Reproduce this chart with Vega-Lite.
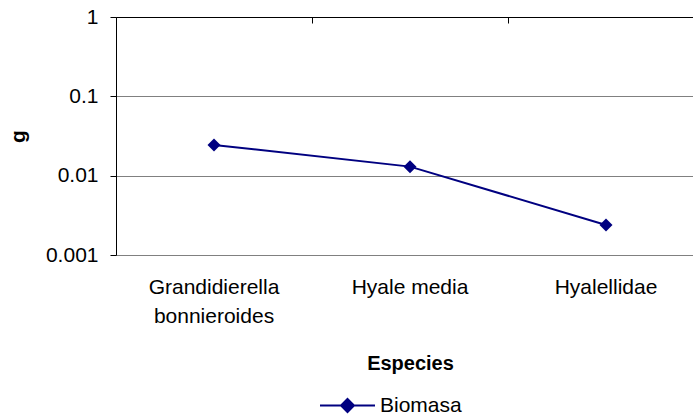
{
  "$schema": "https://vega.github.io/schema/vega-lite/v6.json",
  "autosize": {"type": "none"},
  "padding": {"left": 116, "top": 17, "right": 0, "bottom": 162},
  "width": 588,
  "height": 238,
  "background": "white",
  "config": {
    "font": "Liberation Sans",
    "view": {"stroke": null},
    "axis": {"labelFont": "Liberation Sans", "titleFont": "Liberation Sans", "labelColor": "black", "titleColor": "black"},
    "legend": {
      "orient": "none", "legendX": 203, "legendY": 360, "title": null,
      "padding": 0,
      "symbolType": "M-1,0L1,0M0,-0.236L0.236,0L0,0.236L-0.236,0Z",
      "symbolSize": 3025, "symbolStrokeWidth": 2,
      "symbolFillColor": "#000080", "symbolStrokeColor": "#000080",
      "labelFontSize": 21, "labelColor": "black", "labelOffset": 4,
      "labelFont": "Liberation Sans"
    }
  },
  "data": {
    "values": [
      {"especie": "Grandidierella bonnieroides", "g": 0.0244, "serie": "Biomasa"},
      {"especie": "Hyale media", "g": 0.0130, "serie": "Biomasa"},
      {"especie": "Hyalellidae", "g": 0.00239, "serie": "Biomasa"}
    ]
  },
  "resolve": {"axis": {"x": "independent"}},
  "layer": [
    {
      "mark": {"type": "line", "color": "#000080", "strokeWidth": 2},
      "encoding": {
        "x": {
          "field": "especie", "type": "nominal", "sort": null,
          "scale": {"type": "band", "paddingInner": 0, "paddingOuter": 0},
          "axis": {
            "orient": "bottom", "title": "Especies", "labelAngle": 0,
            "domain": false, "ticks": false, "tickSize": 0, "grid": false,
            "labelFontSize": 21, "labelPadding": 21, "labelLineHeight": 29,
            "labelExpr": "length(datum.label) > 15 ? split(datum.label, ' ') : datum.label",
            "titleFontSize": 20, "titleFontWeight": "bold", "titlePadding": 27
          }
        },
        "y": {
          "field": "g", "type": "quantitative",
          "scale": {"type": "log", "domain": [0.001, 1], "nice": false},
          "axis": {
            "title": "g", "values": [0.001, 0.01, 0.1, 1], "format": "~g",
            "grid": true, "gridWidth": 1,
            "gridColor": {"condition": {"test": "datum.value >= 1", "value": "#000000"}, "value": "#808080"},
            "domainColor": "#000000", "tickColor": "#000000", "tickSize": 6,
            "labelFontSize": 21, "labelPadding": 12,
            "titleFontSize": 21, "titleFontWeight": "bold", "titlePadding": 17
          }
        },
        "color": {"field": "serie", "type": "nominal", "scale": {"domain": ["Biomasa"], "range": ["#000080"]}}
      }
    },
    {
      "mark": {"type": "point", "shape": "diamond", "filled": true, "size": 169, "opacity": 1},
      "encoding": {
        "x": {
          "field": "especie", "type": "nominal", "sort": null,
          "axis": {
            "orient": "top", "title": null, "labels": false, "grid": false,
            "domain": false, "ticks": true, "tickColor": "#000000",
            "tickSize": 6, "bandPosition": 0, "offset": -6
          }
        },
        "y": {
          "field": "g", "type": "quantitative",
          "axis": {
            "title": "g", "values": [0.001, 0.01, 0.1, 1], "format": "~g",
            "grid": true, "gridWidth": 1,
            "gridColor": {"condition": {"test": "datum.value >= 1", "value": "#000000"}, "value": "#808080"},
            "domainColor": "#000000", "tickColor": "#000000", "tickSize": 6,
            "labelFontSize": 21, "labelPadding": 12,
            "titleFontSize": 21, "titleFontWeight": "bold", "titlePadding": 17
          }
        },
        "color": {"field": "serie", "type": "nominal"}
      }
    }
  ]
}
